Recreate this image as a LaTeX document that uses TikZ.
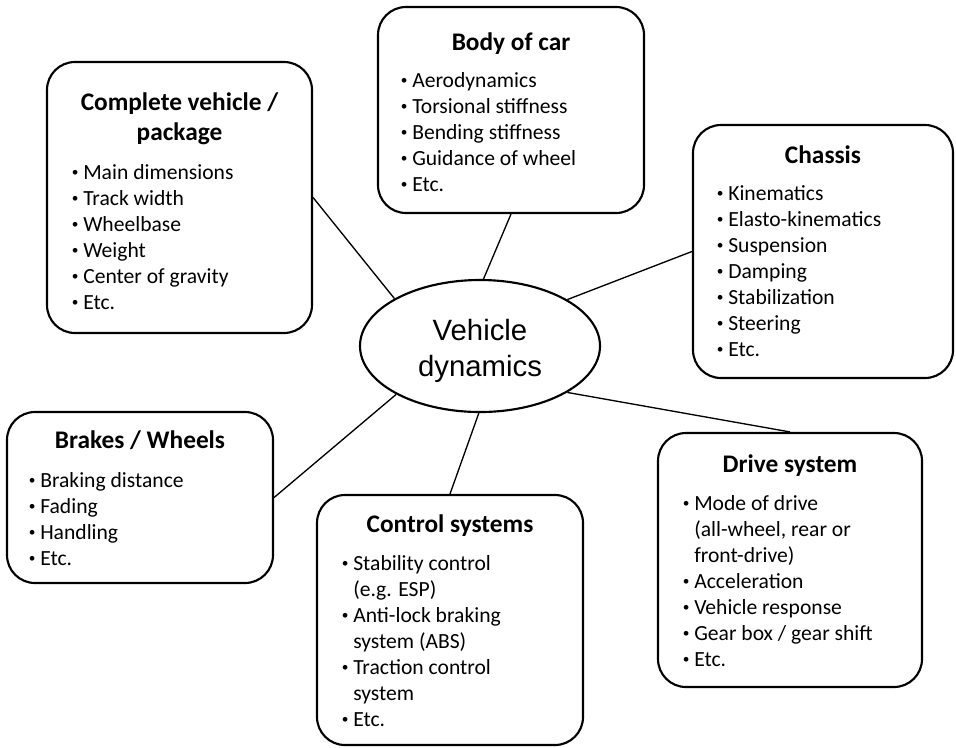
\documentclass[tikz,border=0pt]{standalone}
\usepackage{fontspec}
\setmainfont{Carlito}
\newfontfamily\arialf{Liberation Sans}
\usetikzlibrary{shapes.geometric,fit}
\newcommand\bul{\makebox[9.75pt][l]{\hspace{1.2pt}\raisebox{1.6pt}{\fontsize{10}{10}\selectfont\textbullet}}}
\newcommand\itm[1]{\bul#1}
\newcommand\cnt[1]{\hspace*{9.75pt}#1}
\begin{document}
\begin{tikzpicture}[x=0.75pt,y=-0.75pt,
  box/.style={draw, line width=1.6pt, rounded corners=21pt, inner sep=0pt},
  ttl/.style={anchor=base, inner sep=0pt, font=\fontsize{19}{22.5}\selectfont\bfseries},
  lst/.style={anchor=base west, inner sep=0pt, font=\fontsize{16.2}{19.5}\selectfont},
  link/.style={line width=1pt},
  hub/.style={ellipse, draw, line width=1.6pt, inner sep=0pt,
    minimum width=180pt, minimum height=99pt},
  hubtxt/.style={anchor=base, inner sep=0pt, font=\arialf\fontsize{22}{27}\selectfont}]
\useasboundingbox (0,0) rectangle (956,747);
% boxes
\node[box, fit={(47,62)(312,333)}] (cv) {};
\node[box, fit={(378,7)(644,213)}] (body) {};
\node[box, fit={(693,125)(953,378)}] (chassis) {};
\node[box, fit={(7,412)(273,583)}] (brakes) {};
\node[box, fit={(317,495)(583,745)}] (control) {};
\node[box, fit={(658,433)(922,687)}] (drive) {};
% hub
\node[hub] (ve) at (480,346) {};
\node[hubtxt] (veT) at (480,340) {\parbox[t]{150pt}{\centering Vehicle\\dynamics}};
% titles
\node[ttl] (cvT) at (179.5,110) {\parbox[t]{250pt}{\centering Complete vehicle /\\package}};
\node[ttl] (bodyT) at (511,50) {Body of car};
\node[ttl] (chassisT) at (823,163) {Chassis};
\node[ttl] (brakesT) at (140,448) {Brakes / Wheels};
\node[ttl] (controlT) at (450,532) {Control systems};
\node[ttl] (driveT) at (790,472) {Drive system};
% lists
\node[lst] (cvL) at (70,179) {\parbox[t]{200pt}{\itm{Main dimensions}\\\itm{Track width}\\\itm{Wheelbase}\\\itm{Weight}\\\itm{Center of gravity}\\\itm{Etc.}}};
\node[lst] (bodyL) at (399,87) {\parbox[t]{200pt}{\itm{Aerodynamics}\\\itm{Torsional stiffness}\\\itm{Bending stiffness}\\\itm{Guidance of wheel}\\\itm{Etc.}}};
\node[lst] (chassisL) at (715,200) {\parbox[t]{200pt}{\itm{Kinematics}\\\itm{Elasto-kinematics}\\\itm{Suspension}\\\itm{Damping}\\\itm{Stabilization}\\\itm{Steering}\\\itm{Etc.}}};
\node[lst] (brakesL) at (27,487) {\parbox[t]{200pt}{\itm{Braking distance}\\\itm{Fading}\\\itm{Handling}\\\itm{Etc.}}};
\node[lst] (controlL) at (340,570) {\parbox[t]{200pt}{\itm{Stability control}\\\cnt{(e.g. ESP)}\\\itm{Anti-lock braking}\\\cnt{system (ABS)}\\\itm{Traction control}\\\cnt{system}\\\itm{Etc.}}};
\node[lst] (driveL) at (681,510) {\parbox[t]{200pt}{\itm{Mode of drive}\\\cnt{(all-wheel, rear or}\\\cnt{front-drive)}\\\itm{Acceleration}\\\itm{Vehicle response}\\\itm{Gear box / gear shift}\\\itm{Etc.}}};
% connectors
\draw[link] (cv.east) -- (ve.151.6);
\draw[link] (body.south) -- (ve.87.4);
\draw[link] (chassis.west) -- (ve.28.1);
\draw[link] (drive.north) -- (ve.-28.4);
\draw[link] (control.north) -- (ve.-91.7);
\draw[link] (brakes.east) -- (ve.-150.6);
\end{tikzpicture}
\end{document}
